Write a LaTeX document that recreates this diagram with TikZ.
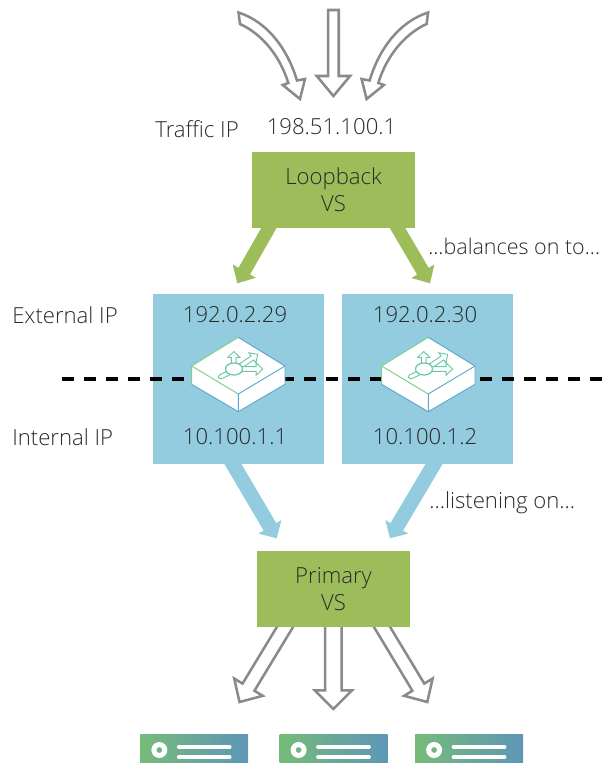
\documentclass[tikz,border=0pt]{standalone}
\usepackage{fontspec}
\setmainfont{Open Sans}[UprightFont=* Light]
\usetikzlibrary{calc,arrows.meta}
\pgfdeclarelayer{arrowlayer}
\pgfdeclarelayer{boxlayer}
\pgfsetlayers{boxlayer,arrowlayer,main}
\definecolor{vsgreen}{HTML}{9DBD5A}
\definecolor{tmblue}{HTML}{93CCDF}
\definecolor{arrowgray}{HTML}{8A8A8A}
\definecolor{txt}{HTML}{2A2A2A}
\definecolor{srvA}{HTML}{76BA7A}
\definecolor{srvB}{HTML}{5E98B4}
\definecolor{iconA}{HTML}{7BD08C}
\definecolor{iconB}{HTML}{5AA7CF}
\definecolor{iconC}{HTML}{68C9A4}
\newcommand{\blockarrow}[6]{%
  \coordinate (neck) at ($(#3)!#6!(#2)$);
  \path[#1] ($(#2)!#4!90:(#3)$) -- ($(neck)!#4!90:(#3)$) -- ($(neck)!#5!90:(#3)$)
    -- (#3) -- ($(neck)!#5!-90:(#3)$) -- ($(neck)!#4!-90:(#3)$) -- ($(#2)!#4!-90:(#3)$) -- cycle;
}
\tikzset{
  x=0.75pt,y=-0.75pt,
  label text/.style={text=txt,font=\fontsize{16.6}{20.25}\selectfont,inner sep=0pt,align=center},
  narrow text/.style={text=txt,font=\fontsize{16.1}{20.25}\selectfont,inner sep=0pt,align=center},
  vsbox/.style={fill=vsgreen,minimum height=57pt,inner sep=0pt,align=center,text=txt,font=\fontsize{16.6}{20.25}\selectfont},
  tmbox/.style={fill=tmblue,minimum width=128.25pt,minimum height=127.5pt,inner sep=0pt},
  outlined arrow/.style={draw=arrowgray,fill=white,line width=1.9pt,miter limit=10},
  green arrow/.style={fill=vsgreen},
  blue arrow/.style={fill=tmblue},
  split line/.style={black,line width=2.6pt,dash pattern=on 9pt off 7.5pt},
  server/.style={minimum width=81pt,minimum height=30pt,inner sep=0pt,left color=srvA,right color=srvB,shading angle=100},
  icon arrow/.style={draw=iconC,fill=white,line width=0.7pt,line join=miter},
  switch/.pic={
    \fill[white] (0,-28.7)--(46.7,0)--(46.7,18.3)--(0,45.7)--(-46.7,18.3)--(-46.7,0)--cycle;
    \draw[iconA,line width=0.7pt,line join=round] (-46.7,18.3)--(-46.7,0)--(0,-28.7);
    \draw[iconA,line width=0.7pt,line join=round] (-46.7,0)--(0,28);
    \draw[iconB,line width=0.7pt,line join=round] (0,-28.7)--(46.7,0)--(46.7,18.3)--(0,45.7)--(-46.7,18.3);
    \draw[iconB,line width=0.7pt] (46.7,0)--(0,28)--(0,45.7);
    \coordinate (ua) at (-4.5,1); \coordinate (ub) at (-4.5,-14.5);
    \coordinate (ra) at (-2,3);   \coordinate (rb) at (19.4,-11.7);
    \coordinate (sa) at (-4,3);   \coordinate (sb) at (24.3,3);
    \blockarrow{icon arrow}{ua}{ub}{1.8pt}{4.6pt}{4.5pt}
    \blockarrow{icon arrow}{ra}{rb}{1.8pt}{4.6pt}{4.8pt}
    \blockarrow{icon arrow}{sa}{sb}{1.8pt}{4.6pt}{4.8pt}
    \draw[iconC,fill=white,line width=0.7pt,line join=round,rounded corners=1pt] (-10,4.5)--(-20,9.5)--(-20,12.5)--(-16,12.5)--(-7,8)--cycle;
    \draw[iconC,fill=white,line width=0.9pt] (-4.3,3) ellipse [x radius=8.5,y radius=6];
  },
}
\begin{document}
\begin{tikzpicture}
\useasboundingbox (0,0) rectangle (603,763);

% boxes
\begin{pgfonlayer}{boxlayer}
\node[tmbox] (tmA) at (238.5,379) {};
\node[tmbox] (tmB) at (427.7,379) {};
\end{pgfonlayer}
\node[vsbox,minimum width=122pt] (loop) at (333.6,189.7) {Loopback\\VS};
\node[vsbox,minimum width=115pt] (prim) at (333.5,589) {Primary\\VS};

% split line
\coordinate (splitL) at (62,379);
\coordinate (splitR) at (603,379);
\draw[split line] (splitL) -- (splitR);

% switches
\pic at (238.3,366) {switch};
\pic at (428.3,366) {switch};

% texts
\node[label text,anchor=west] (t1) at (155,129) {Traffic IP};
\node[label text] (t2) at (331.5,127) {198.51.100.1};
\node[narrow text,anchor=west] (t3) at (428,246) {...balances on to...};
\node[label text,anchor=west] (t4) at (12,315) {External IP};
\node[label text] (t5) at (235,315) {192.0.2.29};
\node[label text] (t6) at (425,315) {192.0.2.30};
\node[label text,anchor=west] (t7) at (12,437) {Internal IP};
\node[label text] (t8) at (235,437) {10.100.1.1};
\node[label text] (t9) at (425,437) {10.100.1.2};
\node[label text,anchor=west] (t10) at (429,502.5) {...listening on...};

% ends of the arrows
\coordinate (gAs) at (275.2,217); \coordinate (gAe) at (237.3,283.3);
\coordinate (gBs) at (391,217);   \coordinate (gBe) at (430,283.3);
\coordinate (bAs) at (227,454);   \coordinate (bAe) at (276.7,538.3);
\coordinate (bBs) at (440,454);   \coordinate (bBe) at (390,538.3);
\coordinate (oAs) at (291,617);   \coordinate (oAe) at (239.5,702);
\coordinate (oBs) at (333.4,617); \coordinate (oBe) at (333.4,709);
\coordinate (oCs) at (376,617);   \coordinate (oCe) at (427.3,702);
\coordinate (inBs) at (333.4,10); \coordinate (inBe) at (333.4,96);

\begin{pgfonlayer}{arrowlayer}
\blockarrow{green arrow}{gAs}{gAe}{5pt}{10pt}{10.5pt}
\blockarrow{green arrow}{gBs}{gBe}{5pt}{10pt}{10.5pt}
\blockarrow{blue arrow}{bAs}{bAe}{5.5pt}{10pt}{10pt}
\blockarrow{blue arrow}{bBs}{bBe}{5.5pt}{10pt}{10pt}
\blockarrow{outlined arrow}{oAs}{oAe}{5.2pt}{12.5pt}{13pt}
\blockarrow{outlined arrow}{oBs}{oBe}{6.2pt}{14pt}{14pt}
\blockarrow{outlined arrow}{oCs}{oCe}{5.2pt}{12.5pt}{13pt}
\blockarrow{outlined arrow}{inBs}{inBe}{4pt}{12.5pt}{15pt}
\end{pgfonlayer}

% curved incoming arrows
\path[outlined arrow] (238.5,12.5) .. controls (268,22) and (288,50) .. (297,80.5)
  -- (305,79) -- (300,99) -- (282.7,85) -- (288.3,83)
  .. controls (280,56) and (262,34) .. (240,24) -- cycle;
\path[outlined arrow] (428.1,12.5) .. controls (398.6,22) and (378.6,50) .. (369.6,80.5)
  -- (361.6,79) -- (366.6,99) -- (383.9,85) -- (378.3,83)
  .. controls (386.6,56) and (404.6,34) .. (426.6,24) -- cycle;

% servers
\begin{scope}
\clip (0,0) rectangle (603,763);
\foreach \n/\xa in {A/194.2,B/333.5,C/469}{
  \node[server] (srv\n) at (\xa,754) {};
  \fill[white,even odd rule] (\xa-34.9,750) circle [radius=8] (\xa-34.9,750) circle [radius=3];
  \draw[white,line width=3.6pt,line cap=round] (\xa-15,747)--(\xa+35,747);
  \draw[white,line width=3.6pt,line cap=round] (\xa-15,757)--(\xa+35,757);
}
\end{scope}
\end{tikzpicture}
\end{document}
